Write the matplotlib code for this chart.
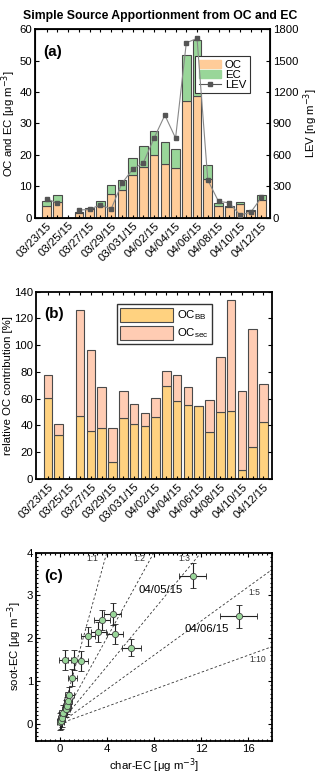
import numpy as np
import matplotlib.pyplot as plt
from matplotlib.patches import Patch
from matplotlib.lines import Line2D
from matplotlib.ticker import MultipleLocator

plt.rcParams['font.family'] = ['Liberation Sans', 'DejaVu Sans']
plt.rcParams['font.size'] = 8.2
plt.rcParams['xtick.direction'] = 'in'
plt.rcParams['ytick.direction'] = 'in'

# daily samples 03/23/15 .. 04/12/15
dates = ['03/23/15', '03/24/15', '03/25/15', '03/26/15', '03/27/15', '03/28/15',
         '03/29/15', '03/30/15', '03/031/15', '04/01/15', '04/02/15', '04/03/15',
         '04/04/15', '04/05/15', '04/06/15', '04/07/15', '04/08/15', '04/09/15',
         '04/10/15', '04/11/15', '04/12/15']

# panel (a)
oc = [3.7, 4.9, np.nan, 1.6, 2.7, 3.7, 7.7, 8.7, 13.7, 16.1, 19.8, 17.1,
      15.8, 37.1, 38.6, 12.4, 3.7, 3.5, 4.3, 2.2, 5.5]
oc_ec = [5.3, 7.1, np.nan, 1.9, 3.2, 5.3, 10.3, 12.1, 18.9, 22.8, 27.5, 24.0,
         21.9, 51.8, 56.4, 16.8, 4.8, 3.7, 5.1, 2.4, 7.3]
lev = [183, 137, np.nan, 73, 80, 124, 83, 328, 462, 525, 760, 979,
       760, 1669, 1711, 360, 156, 143, 26, 52, 195]

# panel (b)
oc_bb = [60.5, 33.1, np.nan, 47.2, 35.6, 38.0, 12.6, 45.4, 41.2, 39.5, 46.2, 69.6,
         58.0, 55.3, 54.6, 35.3, 50.4, 50.6, 6.7, 24.2, 42.7]
oc_total = [77.8, 40.7, np.nan, 126.0, 96.5, 68.4, 38.3, 65.4, 55.8, 49.1, 60.5, 81.0,
            78.0, 68.9, 54.6, 59.0, 91.0, 134.0, 65.9, 112.0, 70.9]

# panel (c)
char_ec = [0.05, 0.08, 0.17, 0.31, 0.53, 0.6, 0.73, 0.84, 1.09, 0.45, 1.2, 1.85,
           2.41, 3.3, 3.59, 4.51, 4.7, 6.1, 11.3, 15.2]
soot_ec = [0.04, 0.07, 0.13, 0.24, 0.35, 0.42, 0.53, 0.66, 1.08, 1.49, 1.49, 1.47,
           2.04, 2.15, 2.43, 2.57, 2.1, 1.78, 3.46, 2.51]
char_err = [0.3, 0.3, 0.3, 0.35, 0.35, 0.35, 0.35, 0.35, 0.35, 0.5, 0.5, 0.55,
            0.6, 0.65, 0.65, 0.7, 0.7, 0.8, 1.15, 1.57]
soot_err = [0.2, 0.2, 0.2, 0.2, 0.2, 0.2, 0.2, 0.2, 0.2, 0.23, 0.23, 0.23,
            0.23, 0.23, 0.23, 0.25, 0.23, 0.2, 0.29, 0.27]
ratios = [1, 2, 3, 5, 10]

x = np.arange(len(dates))
xlabels = [d if i % 2 == 0 else '' for i, d in enumerate(dates)]

c_oc = '#FFCC99'
c_ec = '#99D699'
c_bb = '#FFD280'
c_sec = '#FFCCB3'
edge = '#4a4a4a'

fig = plt.figure(figsize=(3.2, 7.75), dpi=100)
fig.text(0.5, 0.987, 'Simple Source Apportionment from OC and EC',
         ha='center', va='top', fontsize=8.8, fontweight='bold')


def date_axis(ax):
    ax.set_xlim(-1.1, 20.8)
    ax.set_xticks(x)
    ax.set_xticklabels(xlabels, rotation=45, ha='right', rotation_mode='anchor')
    ax.tick_params(axis='x', top=True, length=2.5, width=0.8, pad=2)
    for s in ax.spines.values():
        s.set_linewidth(1.3)


# ---- (a)
ax1 = fig.add_axes([0.109, 0.719, 0.735, 0.2435])
oc_a = np.array(oc)
ec_a = np.array(oc_ec) - oc_a
ax1.bar(x, oc_a, width=0.8, color=c_oc, edgecolor=edge, linewidth=0.8)
ax1.bar(x, ec_a, width=0.8, bottom=oc_a, color=c_ec, edgecolor=edge, linewidth=0.8)
ax1.set_ylim(0, 60)
ax1.set_yticks(np.arange(0, 61, 10))
ax1.set_ylabel('OC and EC [μg m$^{-3}$]', labelpad=1)
date_axis(ax1)
ax1.tick_params(axis='y', length=3, width=0.8, pad=2)
ax1b = ax1.twinx()
ax1b.plot(x, lev, '-', color='#888888', lw=0.8, marker='s', ms=3.5,
          mfc='#555555', mec='#555555')
ax1b.set_ylim(0, 1800)
ax1b.set_yticks(np.arange(0, 1801, 300))
ax1b.set_ylabel('LEV [ng m$^{-3}$]', labelpad=2)
ax1b.tick_params(axis='y', length=3, width=0.8, pad=2)
ax1b.set_xlim(-1.1, 20.8)
ax1.text(0.035, 0.915, '(a)', transform=ax1.transAxes, fontsize=11,
         fontweight='bold', va='top')
h = [Patch(facecolor=c_oc, edgecolor=c_oc), Patch(facecolor=c_ec, edgecolor=c_ec),
     Line2D([], [], color='#555555', marker='s', ms=3.5, lw=0.8)]
leg = ax1.legend(h, ['OC', 'EC', 'LEV'], loc='upper right',
                 bbox_to_anchor=(0.94, 0.89), fancybox=False, framealpha=1,
                 edgecolor='#333333', borderpad=0.35, labelspacing=0.0,
                 handlelength=2.0, handletextpad=0.3, fontsize=8.2)
leg.get_frame().set_linewidth(0.8)

# ---- (b)
ax2 = fig.add_axes([0.1125, 0.382, 0.7375, 0.2417])
bb = np.array(oc_bb)
sec = np.array(oc_total) - bb
ax2.bar(x, bb, width=0.8, color=c_bb, edgecolor=edge, linewidth=0.8)
ax2.bar(x, sec, width=0.8, bottom=bb, color=c_sec, edgecolor=edge, linewidth=0.8)
ax2.set_ylim(0, 140)
ax2.set_yticks(np.arange(0, 141, 20))
ax2.set_ylabel('relative OC contribution [%]', labelpad=1)
date_axis(ax2)
ax2.tick_params(axis='y', right=True, length=3, width=0.8, pad=2)
ax2.text(0.035, 0.92, '(b)', transform=ax2.transAxes, fontsize=11,
         fontweight='bold', va='top')
h2 = [Patch(facecolor=c_bb, edgecolor=edge, lw=0.8),
      Patch(facecolor=c_sec, edgecolor=edge, lw=0.8)]
leg2 = ax2.legend(h2, ['OC$_{\\mathregular{BB}}$', 'OC$_{\\mathregular{sec}}$'],
                  loc='upper left', bbox_to_anchor=(0.318, 0.962), fancybox=False,
                  framealpha=1, edgecolor='#333333', borderpad=0.3,
                  labelspacing=0.3, handlelength=4.6, handleheight=1.5,
                  handletextpad=0.4, fontsize=8.2)
leg2.get_frame().set_linewidth(1.0)

# ---- (c)
ax3 = fig.add_axes([0.1125, 0.0442, 0.7365, 0.2426])
xl = np.linspace(0, 18, 50)
for r in ratios:
    ax3.plot(xl, xl / r, '--', color='#333333', lw=0.6, dashes=(3, 2.5))
ax3.errorbar(char_ec, soot_ec, xerr=char_err, yerr=soot_err, fmt='o', ms=4.5,
             mfc='#99D699', mec='#444444', mew=0.6, ecolor='#222222',
             elinewidth=0.8, capsize=2.5, capthick=0.8, zorder=3)
ax3.set_xlim(-2, 18)
ax3.set_ylim(-0.4, 4)
ax3.set_xticks([0, 4, 8, 12, 16])
ax3.set_yticks([0, 1, 2, 3, 4])
ax3.xaxis.set_minor_locator(MultipleLocator(0.4))
ax3.yaxis.set_minor_locator(MultipleLocator(0.1))
ax3.tick_params(which='both', top=True, right=True, width=0.8)
ax3.tick_params(which='major', length=3, pad=2)
ax3.tick_params(which='minor', length=1.5)
for s in ax3.spines.values():
    s.set_linewidth(1.3)
ax3.set_xlabel('char-EC [μg m$^{-3}$]', labelpad=2)
ax3.set_ylabel('soot-EC [μg m$^{-3}$]', labelpad=2)
ax3.text(0.035, 0.915, '(c)', transform=ax3.transAxes, fontsize=11,
         fontweight='bold', va='top')
for lab, lx, ly in [('1:1', 2.8, 3.86), ('1:2', 6.8, 3.86), ('1:3', 10.6, 3.86),
                    ('1:5', 16.5, 3.07), ('1:10', 16.8, 1.49)]:
    ax3.text(lx, ly, lab, fontsize=6.2, ha='center', va='center', color='#333333')
ax3.text(8.6, 3.13, '04/05/15', fontsize=8.2, ha='center', va='center')
ax3.text(12.5, 2.21, '04/06/15', fontsize=8.2, ha='center', va='center')

fig.savefig('out.png', dpi=100)
